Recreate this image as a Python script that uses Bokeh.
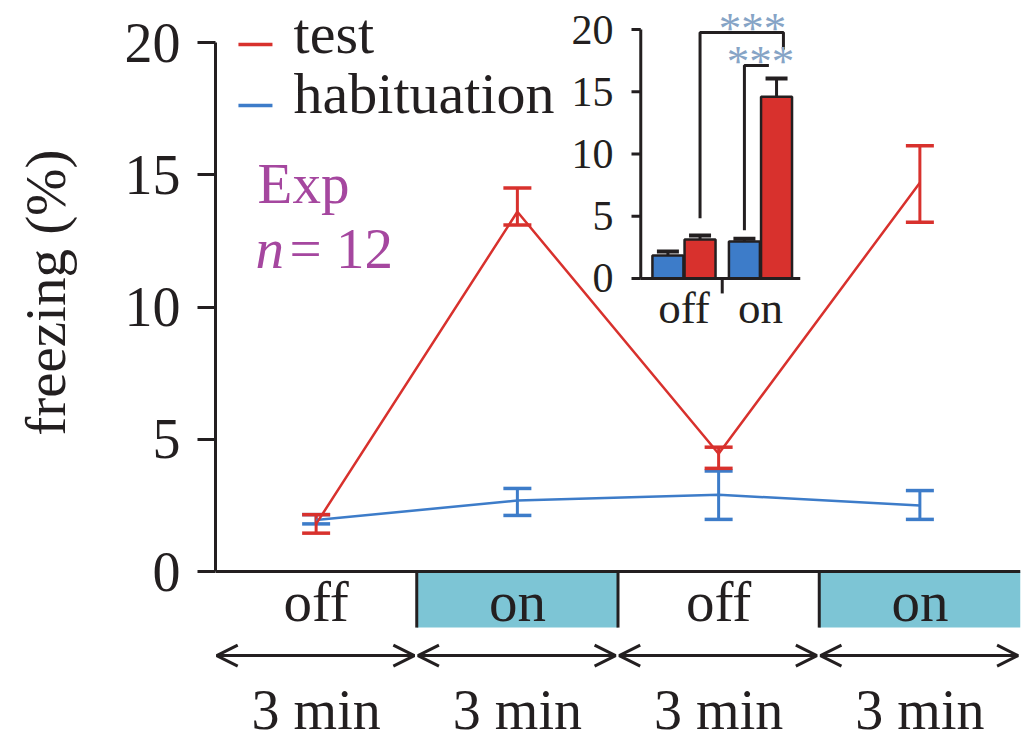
from bokeh.plotting import figure
from bokeh.models import (Range1d, FixedTicker, ColumnDataSource, Whisker, TeeHead,
                          Arrow, OpenHead)
from bokeh.core.properties import value
from bokeh.transform import dodge
from bokeh.embed import file_html
from bokeh.resources import INLINE

# ---------------- data ----------------
phases = ["off", "on", "off", "on"]
durations = ["3 min", "3 min", "3 min", "3 min"]
test_mean = [1.8, 13.6, 4.45, 14.7]
test_low = [1.45, 13.1, 3.9, 13.2]
test_high = [2.15, 14.5, 4.7, 16.1]
hab_mean = [1.95, 2.68, 2.9, 2.5]
hab_low = [1.8, 2.12, 1.97, 1.97]
hab_high = [2.15, 3.14, 3.8, 3.06]
y_ticks = [0, 5, 10, 15, 20]

inset_groups = ["off", "on"]
inset_hab = [1.85, 2.97]
inset_hab_err = [0.32, 0.23]
inset_test = [3.13, 14.6]
inset_test_err = [0.32, 1.46]
inset_ticks = [0, 5, 10, 15, 20]
stars = ["***", "***"]

# ---------------- style ----------------
FONT = "Liberation Serif"
RED = "#d8312d"
BLUE = "#3d7cc9"
TEAL = "#7dc5d5"
PURPLE = "#a5479f"
INK = "#231f20"
STAR = "#86a4c6"
NBSP = "\u00a0"

p = figure(width=1030, height=741, output_backend="svg", toolbar_location=None,
           x_range=Range1d(0, len(phases)), y_range=Range1d(-6.427, 21.588),
           x_axis_location=None, min_border_left=215, min_border_right=10,
           min_border_top=0, min_border_bottom=0)
p.outline_line_color = None
p.xgrid.visible = False
p.ygrid.visible = False
p.background_fill_color = "white"
p.border_fill_color = "white"

ax = p.yaxis[0]
ax.ticker = FixedTicker(ticks=y_ticks)
ax.bounds = (y_ticks[0], y_ticks[-1])
ax.axis_line_width = 3
ax.axis_line_color = INK
ax.major_tick_line_width = 3
ax.major_tick_line_color = INK
ax.major_tick_out = 18
ax.major_tick_in = 0
ax.minor_tick_out = 0
ax.minor_tick_in = 0
ax.major_label_text_font = FONT
ax.major_label_text_font_size = "56px"
ax.major_label_text_color = INK
ax.major_label_standoff = 17
# leading no-break spaces lift the centred title to the middle of the 0-20 scale
ax.axis_label = NBSP * 11 + "freezing (%)"
ax.axis_label_text_font = FONT
ax.axis_label_text_font_size = "57px"
ax.axis_label_text_font_style = "normal"
ax.axis_label_text_color = INK
ax.axis_label_standoff = 45

n = len(phases)
seg = list(range(n))
centers = [i + 0.5 for i in seg]
TXT = dict(text_baseline="middle", text_font=value(FONT))

# ---- phase boxes under the axis ----
BOX_H = 2.12
on_idx = [i for i, ph in enumerate(phases) if ph == "on"]
p.quad(left=on_idx, right=[i + 1 for i in on_idx], top=0, bottom=-BOX_H,
       fill_color=TEAL, line_color=None)
p.segment(x0=seg[1:], y0=0, x1=seg[1:], y1=-BOX_H, line_color=INK, line_width=3)
p.segment(x0=[0], y0=[0], x1=[n], y1=[0], line_color=INK, line_width=3)
p.text(x=centers, y=[-1.13] * n, text=phases, text_align="center",
       text_font_size="57px", text_color=INK, **TXT)

arr_src = ColumnDataSource(dict(x0=[i + 0.006 for i in seg], x1=[i + 0.988 for i in seg],
                                y=[-3.18] * n))
p.add_layout(Arrow(x_start="x0", y_start="y", x_end="x1", y_end="y", source=arr_src,
                   line_color=INK, line_width=3,
                   start=OpenHead(size=21, line_width=3, line_color=INK),
                   end=OpenHead(size=21, line_width=3, line_color=INK)))
p.text(x=centers, y=[-5.25] * n, text=durations, text_align="center",
       text_font_size="56px", text_color=INK, **TXT)

# ---- main series ----
hab_src = ColumnDataSource(dict(x=centers, m=hab_mean, lo=hab_low, hi=hab_high))
test_src = ColumnDataSource(dict(x=centers, m=test_mean, lo=test_low, hi=test_high))
p.line("x", "m", source=hab_src, line_color=BLUE, line_width=2.5)
p.add_layout(Whisker(base="x", upper="hi", lower="lo", source=hab_src, dimension="height",
                     line_color=BLUE, line_width=3,
                     upper_head=TeeHead(size=28, line_color=BLUE, line_width=3.5),
                     lower_head=TeeHead(size=28, line_color=BLUE, line_width=3.5)))
p.line("x", "m", source=test_src, line_color=RED, line_width=2.5)
p.add_layout(Whisker(base="x", upper="hi", lower="lo", source=test_src, dimension="height",
                     line_color=RED, line_width=3,
                     upper_head=TeeHead(size=28, line_color=RED, line_width=3.5),
                     lower_head=TeeHead(size=28, line_color=RED, line_width=3.5)))

# ---- legend ----
p.segment(x0=[0.114, 0.114], y0=[19.92, 17.62], x1=[0.283, 0.283], y1=[19.92, 17.62],
          line_color=[RED, BLUE], line_width=3.5)
p.text(x=[0.388, 0.388], y=[20.34, 18.07], text=["test", "habituation"],
       text_font_size="58px", text_color=INK, **TXT)

# ---- Exp, n = 12 ----
p.text(x=[0.209], y=[14.67], text=["Exp"], text_font_size="57px",
       text_color=PURPLE, **TXT)
p.text(x=[0.199], y=[12.21], text=["n"], text_font_size="57px",
       text_font_style="italic", text_color=PURPLE, **TXT)
p.text(x=[0.368], y=[12.21], text=["= 12"], text_font_size="57px",
       text_color=PURPLE, **TXT)

# ---------------- inset (own scales) ----------------
p.extra_x_ranges = {"ix": Range1d(-6.124, 4.399)}
p.extra_y_ranges = {"iy": Range1d(-37.19, 22.33)}
IR = dict(x_range_name="ix", y_range_name="iy")
OFF = 0.21
BW = 0.405
g = list(range(len(inset_groups)))
ins = ColumnDataSource(dict(g=g, hab=inset_hab, test=inset_test))
p.vbar(x=dodge("g", -OFF), top="hab", bottom=0, width=BW, source=ins,
       fill_color=BLUE, line_color=INK, line_width=2.5, **IR)
p.vbar(x=dodge("g", OFF), top="test", bottom=0, width=BW, source=ins,
       fill_color=RED, line_color=INK, line_width=2.5, **IR)

xh = [v - OFF for v in g]
xt = [v + OFF for v in g]
err_src = ColumnDataSource(dict(
    x=xh + xt,
    lo=inset_hab + inset_test,
    hi=[a + b for a, b in zip(inset_hab, inset_hab_err)] +
       [a + b for a, b in zip(inset_test, inset_test_err)]))
p.add_layout(Whisker(base="x", upper="hi", lower="lo", source=err_src, dimension="height",
                     line_color=INK, line_width=3, lower_head=None,
                     upper_head=TeeHead(size=22, line_color=INK, line_width=4), **IR))

# inset axes
AX_X = -0.565
TICK_X = -0.686
END_X = 1.52
p.segment(x0=[AX_X], y0=[inset_ticks[0]], x1=[AX_X], y1=[inset_ticks[-1]],
          line_color=INK, line_width=3, **IR)
p.segment(x0=[TICK_X] * len(inset_ticks), y0=inset_ticks, x1=[AX_X] * len(inset_ticks),
          y1=inset_ticks, line_color=INK, line_width=3, **IR)
p.segment(x0=[AX_X], y0=[0], x1=[END_X], y1=[0], line_color=INK, line_width=3, **IR)
p.segment(x0=[0.5], y0=[0], x1=[0.5], y1=[-1.2], line_color=INK, line_width=3, **IR)
p.text(x=[-0.92] * len(inset_ticks), y=inset_ticks, text=[str(t) for t in inset_ticks],
       text_align="right", text_font_size="42px", text_color=INK, **TXT, **IR)
p.text(x=g, y=[-2.33] * len(g), text=inset_groups, text_align="center",
       text_font_size="45px", text_color=INK, **TXT, **IR)

# significance brackets
b1_x = [xt[0], xt[0], xt[1] + 0.09, xt[1] + 0.09]
b1_y = [inset_test[0] + 1.7, 19.76, 19.76, 18.4]
b2_x = [xh[1], xh[1], xh[1] + 0.32]
b2_y = [inset_hab[1] + 0.9, 17.1, 17.1]
p.multi_line(xs=[b1_x, b2_x], ys=[b1_y, b2_y], line_color=INK, line_width=3, **IR)
p.text(x=[0.895, 1.0], y=[20.16, 17.51], text=stars, text_align="center",
       text_font_size="45px", text_color=STAR, **TXT, **IR)

open("out.html", "w").write(file_html(p, INLINE))
